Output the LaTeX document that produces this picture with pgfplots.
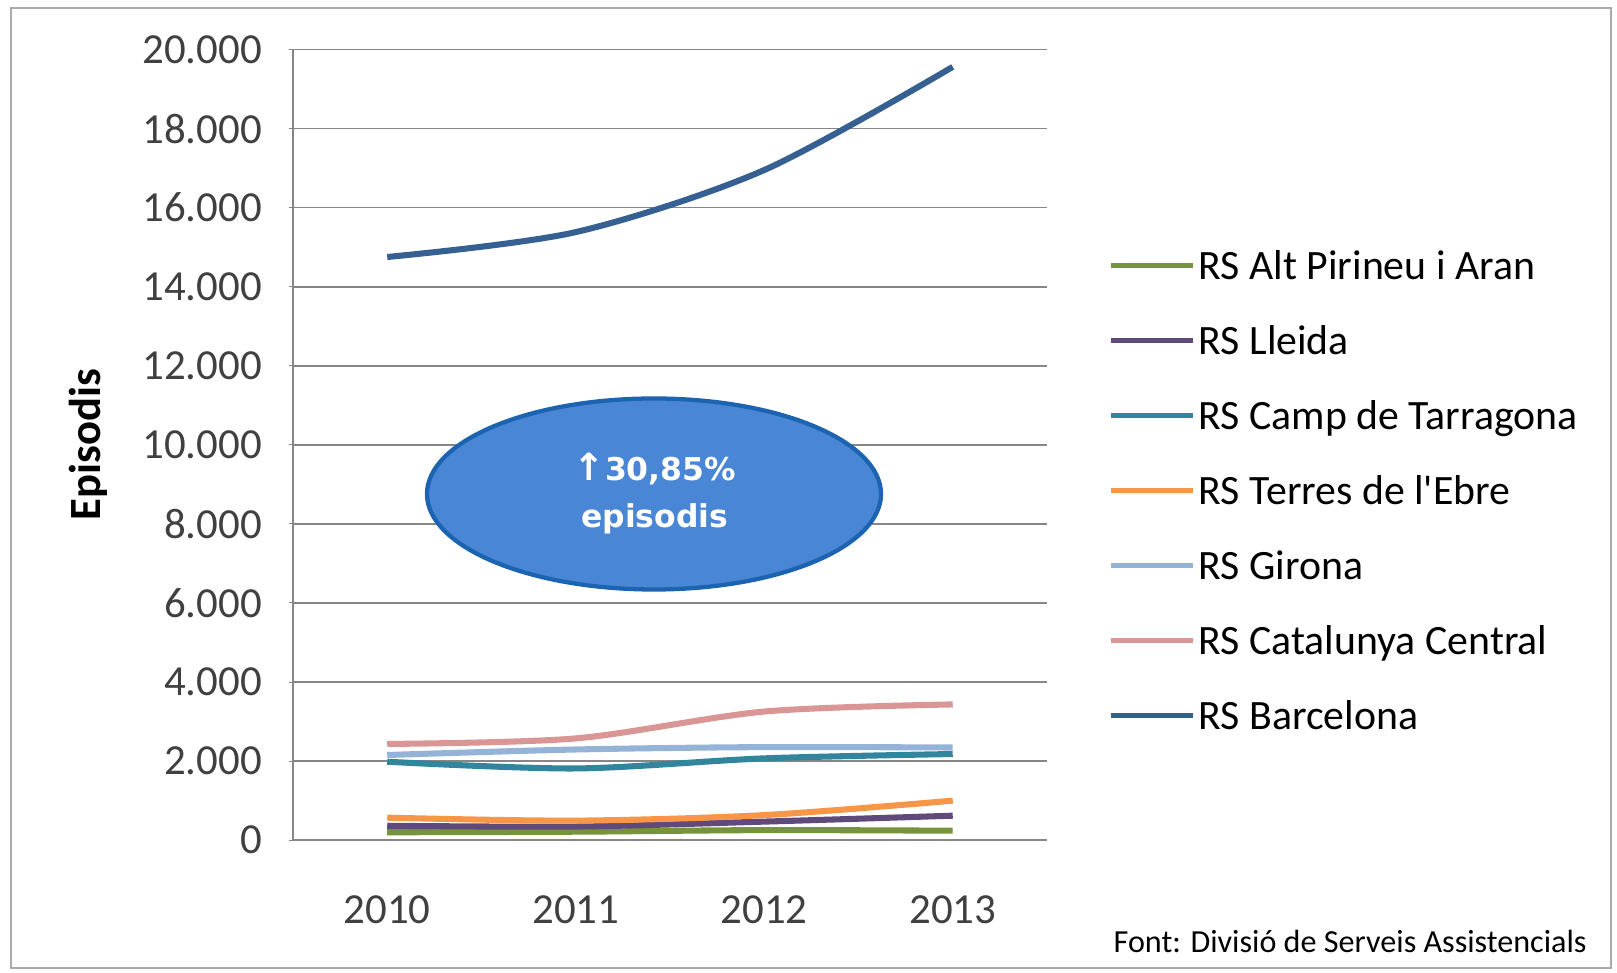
\documentclass[border=0pt]{standalone}
\usepackage{pgfplots}
\pgfplotsset{compat=1.18}
\usepackage{fontspec}
\setmainfont{Carlito}
\newfontfamily\rawcarlito{Carlito}
\newfontfamily\dejavu{DejaVu Sans}

\definecolor{cAlt}{RGB}{119,147,60}
\definecolor{cLle}{RGB}{96,74,123}
\definecolor{cCamp}{RGB}{49,133,156}
\definecolor{cEbre}{RGB}{247,150,70}
\definecolor{cGir}{RGB}{149,179,215}
\definecolor{cCat}{RGB}{217,150,148}
\definecolor{cBcn}{RGB}{55,96,146}
\definecolor{gridgray}{RGB}{134,134,134}
\definecolor{framegray}{RGB}{170,170,170}
\definecolor{ellfill}{RGB}{74,134,214}
\definecolor{elldraw}{RGB}{28,100,178}

\begin{document}
\begin{tikzpicture}
% 1 px of the reference = 0.28pt, origin at the axis corner
\path[use as bounding box] (-82.04pt,-37.24pt) rectangle (370.72pt,235.2pt);
\draw[framegray, line width=0.6pt] (-78.96pt,-35.84pt) rectangle (369.04pt,232.96pt);

\begin{axis}[
  at={(0pt,0pt)}, anchor=south west,
  scale only axis,
  width=211.12pt, height=221.34pt,
  xmin=-0.5, xmax=3.5,
  ymin=0, ymax=20000,
  xtick={0,1,2,3},
  xticklabels={2010,2011,2012,2013},
  ytick={0,2000,4000,6000,8000,10000,12000,14000,16000,18000,20000},
  scaled y ticks=false,
  ymajorgrids,
  grid style={gridgray, line width=0.5pt},
  axis lines*=left,
  axis line style={gridgray, line width=0.6pt},
  x tick style={draw=none},
  y tick style={gridgray},
  tick align=outside,
  major tick length=1.2pt,
  tick label style={font=\fontsize{12}{14}\selectfont, text=black!75},
  yticklabel style={xshift=-4pt},
  xticklabel style={yshift=-11pt},
  ylabel={Episodis},
  ylabel style={at={(axis description cs:-0.272,0.5)}, anchor=center, font=\bfseries\fontsize{12.5}{14}\selectfont},
  every axis plot/.append style={line width=1.7pt, smooth},
  legend style={at={(axis description cs:1.081,0.751)}, anchor=north west,
    draw=none, fill=none, inner sep=0pt, row sep=10.5pt,
    font=\fontsize{11.7}{14}\selectfont,
    nodes={inner xsep=0.8pt, inner ysep=0pt, text height=9pt, text depth=1.5pt},
    cells={anchor=west}},
  legend image code/.code={\draw[#1, line width=1.4pt] (0pt,0pt) -- (23pt,0pt);},
  /pgf/number format/1000 sep={.},
  /pgf/number format/assume math mode=true
]
\addplot[cAlt] coordinates {(0,195) (1,210) (2,250) (3,235)};
\addlegendentry{RS Alt Pirineu i Aran}
\addplot[cLle] coordinates {(0,360) (1,340) (2,465) (3,615)};
\addlegendentry{RS Lleida}
\addplot[cCamp] coordinates {(0,1980) (1,1810) (2,2065) (3,2175)};
\addlegendentry{RS Camp de Tarragona}
\addplot[cEbre] coordinates {(0,565) (1,490) (2,630) (3,995)};
\addlegendentry{RS Terres de l{\rawcarlito '}Ebre}
\addplot[cGir] coordinates {(0,2150) (1,2290) (2,2350) (3,2340)};
\addlegendentry{RS Girona}
\addplot[cCat] coordinates {(0,2430) (1,2570) (2,3250) (3,3430)};
\addlegendentry{RS Catalunya Central}
\addplot[cBcn] coordinates {(0,14750) (1,15380) (2,16950) (3,19560)};
\addlegendentry{RS Barcelona}
\end{axis}

\draw[fill=ellfill, draw=elldraw, line width=1.2pt] (101.08pt,96.88pt) ellipse [x radius=63.56pt, y radius=26.74pt];
\node[white, font=\dejavu\bfseries\fontsize{8.8}{13}\selectfont, align=center] at (101.3pt,97pt) {{\fontsize{10.5}{13}\selectfont ↑}30,85\%\\episodis};

\node[font=\fontsize{9}{10}\selectfont] at (296pt,-28.3pt) {Font: Divisió de Serveis Assistencials};
\end{tikzpicture}
\end{document}
